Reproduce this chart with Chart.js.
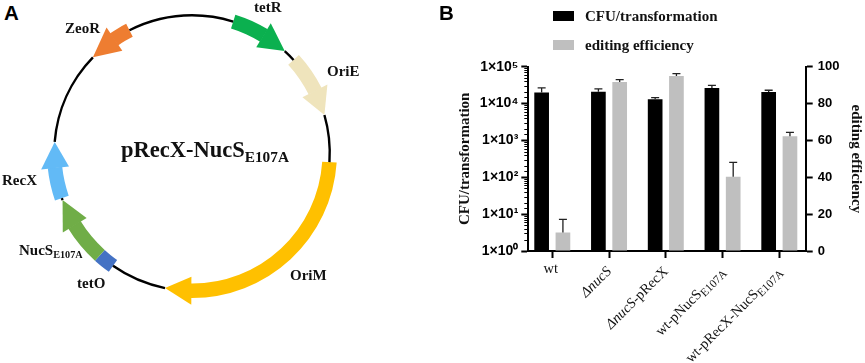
<!DOCTYPE html>
<html>
<head>
<meta charset="utf-8">
<style>
  html, body { margin: 0; padding: 0; background: #fff; width: 865px; height: 363px; overflow: hidden; }
  canvas { position: absolute; }
  .t { position: absolute; white-space: nowrap; font-family: "Liberation Serif", serif; font-weight: bold; font-size: 15px; line-height: 16px; color: #111; }
  .t sub { font-size: 0.68em; line-height: 0; vertical-align: -0.32em; }
  .panel { font-family: "Liberation Sans", sans-serif; font-size: 20.5px; line-height: 20px; color: #000; }
  #legend div.swatch { position: absolute; width: 21px; height: 10px; }
</style>
<script src="https://cdn.jsdelivr.net/npm/chart.js@4/dist/chart.umd.min.js"></script>
</head>
<body>
<canvas id="plasmid" width="320" height="320" style="left:32px;top:-7px"></canvas>
<canvas id="bars" width="435" height="363" style="left:430px;top:0"></canvas>

<div class="t panel" style="left:4px;top:3px">A</div>
<div class="t panel" style="left:439px;top:3px">B</div>

<div class="t" style="left:65px;top:20px">ZeoR</div>
<div class="t" style="left:254px;top:-1px">tetR</div>
<div class="t" style="left:327px;top:63px">OriE</div>
<div class="t" style="left:2px;top:172px">RecX</div>
<div class="t" style="left:19px;top:242px">NucS<sub>E107A</sub></div>
<div class="t" style="left:77px;top:275px">tetO</div>
<div class="t" style="left:290px;top:267px">OriM</div>
<div class="t" style="left:121px;top:139px;font-size:22.5px;line-height:22px">pRecX-NucS<sub>E107A</sub></div>

<div id="legend"></div>

<script>
// plasmid map, spans in degrees going clockwise from the top
var partNames = ['', 'tetR', 'tetR>', '', 'OriE', 'OriE>', '', 'OriM', 'OriM>', '', 'tetO', 'NucS', 'NucS>', '', 'RecX', 'RecX>', '', 'ZeoR<', 'ZeoR', ''];
var partSpans = [17.4, 14.1, 10.8, 5.2, 15.9, 10.6, 19.8, 86.7, 10.8, 23.7, 7, 16.6, 11.4, 0.9, 13.1, 10.6, 39.4, 11.5, 7.5, 27];

// bar chart
var categories = ['wt', '\u0394nucS', '\u0394nucS-pRecX', 'wt-pNucS_E107A', 'wt-pRecX-NucS_E107A'];
var categoryIndex = [0, 1, 2, 3, 4];
var cfuValues = [20000, 21000, 13000, 26500, 20500];
var cfuErrorTop = [26500, 25000, 14500, 31000, 23000];
var efficiencyValues = [10, 91.7, 95, 40.3, 62.2];
var efficiencyErrorTop = [17.2, 93, 96.2, 48.1, 64.4];
var leftTicks = [1, 10, 100, 1000, 10000, 100000];
var leftTickLabels = ['1\u00d710\u2070', '1\u00d710\u00b9', '1\u00d710\u00b2', '1\u00d710\u00b3', '1\u00d710\u2074', '1\u00d710\u2075'];

var geneColors = { tetR: '#0bb04f', OriE: '#efe4bc', OriM: '#ffc000', tetO: '#4472c4', NucS: '#70ad47', RecX: '#62baf6', ZeoR: '#ee7d31' };
var serif = '"Liberation Serif", serif';
var sans = '"Liberation Sans", sans-serif';

function geneOf(name) {
    return name.replace(/[<>]/, '');
}

var plasmidPlugin = {
    id: 'plasmidParts',
    afterDatasetsDraw: function(chart) {
        var ctx = chart.ctx;
        var arcs = chart.getDatasetMeta(0).data;
        ctx.save();
        arcs.forEach(function(arc, i) {
            var name = partNames[i];
            var mid = (arc.innerRadius + arc.outerRadius) / 2;
            if (name === '') {
                // backbone between the features
                ctx.beginPath();
                ctx.arc(arc.x, arc.y, mid, arc.startAngle, arc.endAngle);
                ctx.strokeStyle = '#000';
                ctx.lineWidth = 2.4;
                ctx.stroke();
            } else if (/[<>]/.test(name)) {
                var clockwise = name.indexOf('>') > 0;
                var tip = clockwise ? arc.endAngle : arc.startAngle;
                var back = clockwise ? arc.startAngle - 0.004 : arc.endAngle + 0.004;
                ctx.beginPath();
                ctx.moveTo(arc.x + Math.cos(tip) * mid, arc.y + Math.sin(tip) * mid);
                ctx.lineTo(arc.x + Math.cos(back) * (mid + 14), arc.y + Math.sin(back) * (mid + 14));
                ctx.lineTo(arc.x + Math.cos(back) * (mid - 14), arc.y + Math.sin(back) * (mid - 14));
                ctx.closePath();
                ctx.fillStyle = geneColors[geneOf(name)];
                ctx.fill();
            }
        });
        ctx.restore();
    }
};

new Chart(document.getElementById('plasmid').getContext('2d'), {
    type: 'doughnut',
    data: {
        labels: partNames,
        datasets: [{
            data: partSpans,
            borderWidth: 0,
            backgroundColor: partNames.map(function(name) {
                if (name === '' || /[<>]/.test(name)) return 'rgba(0,0,0,0)';
                return geneColors[name];
            })
        }]
    },
    options: {
        responsive: false,
        animation: false,
        cutout: '90%',
        layout: { padding: 15 },
        plugins: { legend: { display: false }, tooltip: { enabled: false } }
    },
    plugins: [plasmidPlugin]
});

// splits a category into text runs: italic for the deleted gene, small and low for the allele
function labelRuns(label) {
    var runs = [];
    var rest = label;
    var m = rest.match(/^\u0394nucS/);
    if (m) {
        runs.push({ text: m[0], italic: true });
        rest = rest.slice(m[0].length);
    }
    var parts = rest.split('_');
    if (parts[0]) runs.push({ text: parts[0] });
    if (parts[1]) runs.push({ text: parts[1], sub: true });
    return runs;
}

function runFont(run) {
    return (run.italic ? 'italic ' : '') + (run.sub ? '11.5px ' : '14.5px ') + serif;
}

var figurePlugin = {
    id: 'figureExtras',
    afterDatasetsDraw: function(chart) {
        var ctx = chart.ctx;
        var x = chart.scales.x;
        var y = chart.scales.y;
        var y1 = chart.scales.y1;

        // error bars, upper side only
        ctx.save();
        ctx.lineWidth = 1.3;
        ctx.strokeStyle = '#222';
        [[0, cfuErrorTop, y], [1, efficiencyErrorTop, y1]].forEach(function(set) {
            chart.getDatasetMeta(set[0]).data.forEach(function(bar, i) {
                var top = set[2].getPixelForValue(set[1][i]);
                ctx.beginPath();
                ctx.moveTo(bar.x, bar.y);
                ctx.lineTo(bar.x, top);
                ctx.moveTo(bar.x - 4, top);
                ctx.lineTo(bar.x + 4, top);
                ctx.stroke();
            });
        });

        // short minor ticks of the log axis
        ctx.lineWidth = 1;
        ctx.strokeStyle = '#000';
        y.ticks.forEach(function(tick) {
            if (tick.major) return;
            var py = Math.round(y.getPixelForValue(tick.value)) + 0.5;
            ctx.beginPath();
            ctx.moveTo(y.right, py);
            ctx.lineTo(y.right - 4, py);
            ctx.stroke();
        });

        // category labels, subscripts need several runs so they are drawn here
        ctx.fillStyle = '#111';
        ctx.textBaseline = 'alphabetic';
        categories.forEach(function(label, i) {
            var px = x.getPixelForValue(categoryIndex[i]);
            var runs = labelRuns(label);
            var total = 0;
            runs.forEach(function(run) {
                ctx.font = runFont(run);
                run.width = ctx.measureText(run.text).width;
                total += run.width;
            });
            ctx.save();
            if (i === 0) {
                ctx.translate(px - 1.5, 273);
                ctx.translate(total / 2, 0);
            } else {
                ctx.translate(px + 3, 272);
                ctx.rotate(-Math.PI / 4);
            }
            var at = -total;
            runs.forEach(function(run) {
                ctx.font = runFont(run);
                ctx.fillText(run.text, at, run.sub ? 3 : 0);
                at += run.width;
            });
            ctx.restore();
        });
        ctx.restore();
    }
};

var barChart = new Chart(document.getElementById('bars').getContext('2d'), {
    type: 'bar',
    data: {
        datasets: [{
            label: 'CFU/transformation',
            data: categoryIndex.map(function(c, i) { return { x: c, y: cfuValues[i] }; }),
            backgroundColor: '#000',
            yAxisID: 'y'
        }, {
            label: 'editing efficiency',
            data: categoryIndex.map(function(c, i) { return { x: c, y: efficiencyValues[i] }; }),
            backgroundColor: '#bfbfbf',
            yAxisID: 'y1'
        }]
    },
    options: {
        responsive: false,
        animation: false,
        categoryPercentage: 0.75,
        barPercentage: 0.69,
        layout: { padding: { top: 66.7, left: 0, right: 0, bottom: 0 } },
        plugins: { legend: { display: false }, tooltip: { enabled: false } },
        scales: {
            x: {
                type: 'linear',
                offset: false,
                min: -0.4225,
                max: 4.465,
                afterFit: function(scale) { scale.height = 112; },
                border: { color: '#000', width: 2 },
                grid: { offset: false, drawOnChartArea: false, tickLength: 7, tickWidth: 2, tickColor: '#000' },
                ticks: {
                    stepSize: 1,
                    includeBounds: false,
                    callback: function() { return ''; }
                }
            },
            y: {
                type: 'logarithmic',
                min: 1,
                max: 100000,
                afterFit: function(scale) { scale.width = 98.3; },
                border: { color: '#000', width: 2 },
                grid: {
                    drawOnChartArea: false,
                    tickLength: 7,
                    tickWidth: 2,
                    tickColor: function(c) { return c.tick && c.tick.major ? '#000' : 'rgba(0,0,0,0)'; }
                },
                ticks: {
                    autoSkip: false,
                    padding: 3,
                    color: '#000',
                    font: { family: sans, weight: 'bold', size: 14 },
                    callback: function(value) {
                        var at = leftTicks.indexOf(value);
                        return at >= 0 ? leftTickLabels[at] : '';
                    }
                },
                title: {
                    display: true,
                    text: 'CFU/transformation',
                    color: '#111',
                    font: { family: serif, weight: 'bold', size: 15 },
                    padding: { top: 26, bottom: 0 }
                }
            },
            y1: {
                position: 'right',
                min: 0,
                max: 100,
                afterFit: function(scale) { scale.width = 59.3; },
                border: { color: '#000', width: 2 },
                grid: { drawOnChartArea: false, tickLength: 7, tickWidth: 2, tickColor: '#000' },
                ticks: {
                    stepSize: 20,
                    padding: 5,
                    color: '#000',
                    font: { family: sans, weight: 'bold', size: 13 }
                },
                title: {
                    display: true,
                    text: 'editing efficiency',
                    color: '#111',
                    font: { family: serif, weight: 'bold', size: 15 },
                    padding: 0
                }
            }
        }
    },
    plugins: [figurePlugin]
});

// legend built from the datasets, two rows above the plot
barChart.data.datasets.forEach(function(set, i) {
    var top = 11 + i * 29;
    var swatch = document.createElement('div');
    swatch.className = 'swatch';
    swatch.style.left = '553px';
    swatch.style.top = top + 'px';
    swatch.style.background = set.backgroundColor;
    var text = document.createElement('div');
    text.className = 't';
    text.style.left = '585px';
    text.style.top = (top - 3) + 'px';
    text.textContent = set.label;
    var box = document.getElementById('legend');
    box.appendChild(swatch);
    box.appendChild(text);
});
</script>
</body>
</html>
